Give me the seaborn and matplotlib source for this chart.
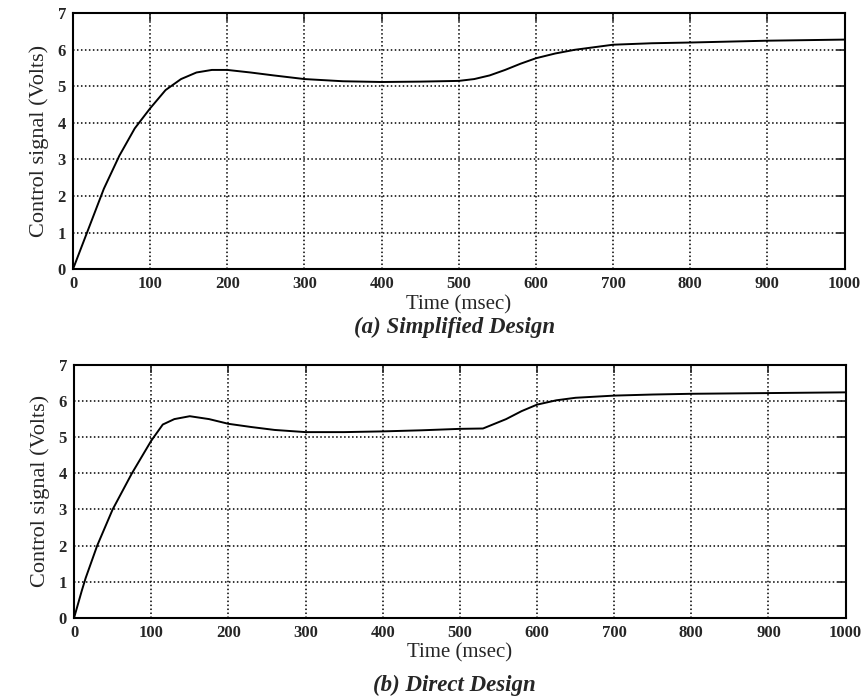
import pandas as pd
import matplotlib
matplotlib.use("Agg")
import matplotlib.pyplot as plt
import seaborn as sns

# Control signal readings taken off the two traces
time_a = [0, 10, 20, 40, 60, 80, 100, 120, 140, 160, 180, 200, 230, 260, 300, 350,
          400, 450, 500, 520, 540, 560, 580, 600, 625, 650, 700, 750, 800, 900, 1000]
volts_a = [0.0, 0.55, 1.1, 2.2, 3.1, 3.85, 4.4, 4.9, 5.2, 5.38, 5.45, 5.45, 5.38, 5.3,
           5.2, 5.14, 5.12, 5.13, 5.15, 5.2, 5.3, 5.45, 5.62, 5.77, 5.9, 6.0, 6.14,
           6.18, 6.2, 6.25, 6.28]

time_b = [0, 10, 15, 30, 50, 75, 100, 115, 130, 150, 175, 200, 230, 260, 300, 350,
          400, 450, 500, 530, 560, 580, 600, 625, 650, 700, 750, 800, 900, 1000]
volts_b = [0.0, 0.75, 1.1, 2.0, 3.0, 4.0, 4.9, 5.35, 5.5, 5.58, 5.5, 5.37, 5.28, 5.2,
           5.14, 5.14, 5.16, 5.19, 5.23, 5.24, 5.5, 5.72, 5.9, 6.02, 6.09, 6.15, 6.18,
           6.2, 6.22, 6.24]

x_ticks = [0, 100, 200, 300, 400, 500, 600, 700, 800, 900, 1000]
y_ticks = [0, 1, 2, 3, 4, 5, 6, 7]

sns.set_style("white")
plt.rcParams['font.family'] = ['Liberation Serif', 'DejaVu Serif']

fig = plt.figure(figsize=(8.65, 6.99), dpi=100)
ax_a = fig.add_axes([0.0844, 0.615, 0.892, 0.366])
ax_b = fig.add_axes([0.0856, 0.116, 0.892, 0.362])

panels = [
    (ax_a, time_a, volts_a, "(a) Simplified Design", 0.531),
    (ax_b, time_b, volts_b, "(b) Direct Design", 0.020),
]

for ax, t, v, caption, cap_y in panels:
    df = pd.DataFrame({"Time": t, "Volts": v})
    sns.lineplot(data=df, x="Time", y="Volts", ax=ax, color="black", linewidth=1.4)
    ax.set_xlim(0, 1000)
    ax.set_ylim(0, 7)
    ax.set_xticks(x_ticks)
    ax.set_yticks(y_ticks)
    ax.grid(True, color="black", linestyle=(0, (1, 1.6)), linewidth=1.1)
    for s in ax.spines.values():
        s.set_color("black")
        s.set_linewidth(1.5)
    ax.tick_params(direction="in", length=6, width=1.2, top=True, right=True,
                   labelsize=12, pad=5)
    for lbl in ax.get_xticklabels() + ax.get_yticklabels():
        lbl.set_fontweight("bold")
    ax.set_xlabel("Time (msec)", fontsize=15, labelpad=2)
    ax.set_ylabel("Control signal (Volts)", fontsize=16, labelpad=6)
    fig.text(0.525, cap_y, caption, ha="center", va="center", fontsize=16.5,
             style="italic", fontweight="bold")

fig.savefig("out.png", dpi=100)
